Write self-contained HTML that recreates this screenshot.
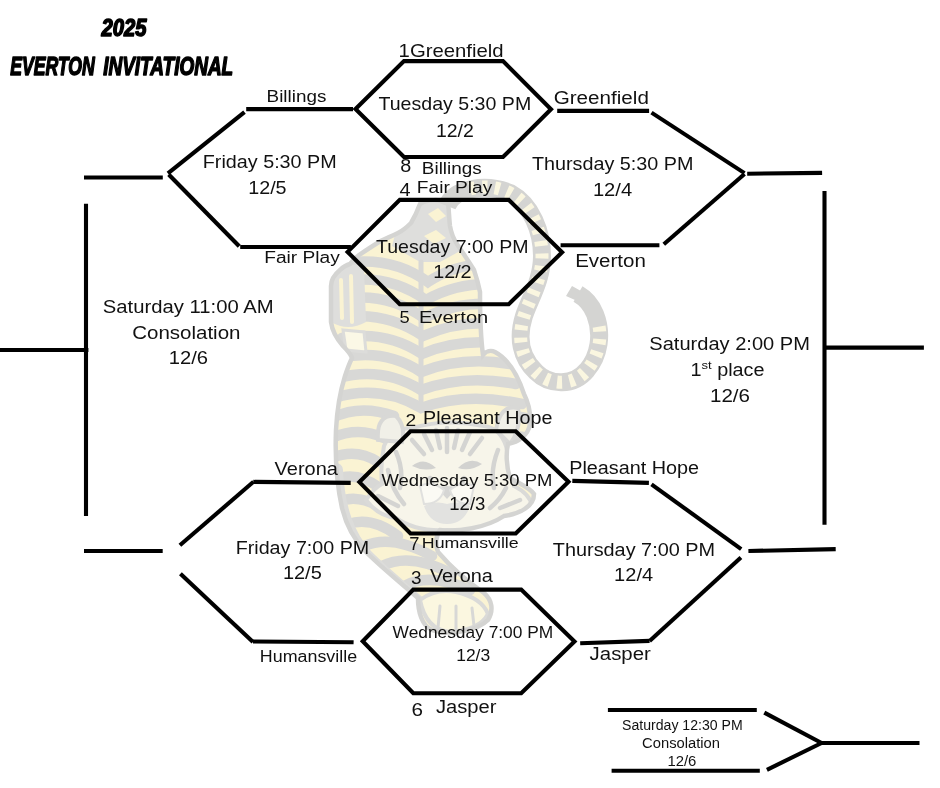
<!DOCTYPE html>
<html lang="en"><head><meta charset="utf-8"><title>2025 Everton Invitational</title>
<style>
html,body{margin:0;padding:0;background:#fff;}
body{width:940px;height:788px;overflow:hidden;}
svg{display:block;will-change:transform;}
.t{font-family:"Liberation Sans",sans-serif;fill:#111;}
.ttl{font-family:"Liberation Sans",sans-serif;font-weight:bold;font-style:italic;fill:#000;stroke:#000;stroke-width:1.5;stroke-linejoin:round;}
.ln{stroke:#000;stroke-width:4.1;fill:none;stroke-linecap:butt;stroke-linejoin:miter;}
</style></head><body>
<svg width="940" height="788" viewBox="0 0 940 788">
<rect width="940" height="788" fill="#fff"/>
<g class="tiger">
<defs>
<clipPath id="bodyclip"><path id="bodyp" d="M448,203 C440,199 428,199 420,204 C417,212 414,218 411,223 C406,228 402,231 398,233 C390,237 384,239 379,242 C371,247 365,251 359,255 C355,258 352,261 350,264 C346,265 343,267 340,270 C334,275 331,280 331,286 L331,322 C332,330 336,338 343,346 C348,351 351,355 352,358 C349,364 347,370 345,376 C340,392 337,410 336,430 C335,455 337,485 342,508 C346,524 354,540 366,552 C382,568 402,584 418,598 C418,612 422,626 432,630 C452,636 478,630 488,620 C494,610 492,600 484,593 C468,582 450,566 438,552 C435,544 436,535 440,530 C458,532 486,528 504,516 C520,514 534,506 534,494 C530,488 520,484 510,478 C506,466 506,452 508,444 C518,442 528,436 530,424 C531,412 528,402 524,394 C518,376 508,359 495,352 C491,350 486,351 483,355 C481,340 480,316 480,292 C478,282 476,276 474,270 C468,260 462,252 457,244 C453,238 451,232 450,226 C449,218 449,210 448,203 Z"/></clipPath>
</defs>
<use href="#bodyp" fill="#faf3d3"/>
<g clip-path="url(#bodyclip)" fill="none" stroke="#d8d8d6" stroke-linecap="round">
 <!-- rump is mostly grey -->
 <path d="M405,196 L455,196 L462,250 L440,262 L420,262 L392,246 Z" fill="#dededc" stroke="none"/>
 <path d="M428,214 L438,208 L446,216 L436,222 Z M424,236 L436,230 L446,238 L434,244 Z" fill="#faf3d3" stroke="none"/>
 <g stroke-width="10.5">
  <path d="M352,262 Q395,258 428,282 Q452,266 482,264"/>
  <path d="M352,280 Q392,276 426,300 Q454,284 488,284"/>
  <path d="M350,298 Q390,294 424,318 Q456,302 492,304"/>
  <path d="M346,317 Q388,312 423,336 Q458,320 498,324"/>
  <path d="M342,338 Q386,330 422,354 Q460,338 504,344"/>
  <path d="M340,358 Q384,348 421,372 Q462,356 510,364"/>
  <path d="M338,378 Q382,366 421,390 Q464,374 516,384"/>
  <path d="M334,398 Q380,384 421,408 Q466,392 522,404"/>
  <path d="M332,418 Q360,404 394,416"/>
  <path d="M332,438 Q358,426 384,438"/>
  <path d="M332,458 Q356,448 378,462"/>
  <path d="M334,480 Q356,470 380,488"/>
  <path d="M338,502 Q360,492 388,512"/>
  <path d="M348,524 Q372,516 398,536"/>
  <path d="M364,546 Q392,534 432,556"/>
  <path d="M382,566 Q410,552 452,574"/>
  <path d="M404,586 Q430,572 470,590"/>
  <path d="M500,420 Q516,412 536,422"/>
  <path d="M506,440 Q520,432 536,442"/>
  <path d="M512,462 Q522,454 536,464"/>
 </g>
 <path d="M421,262 L421,410" stroke-width="5"/>
 <!-- hind leg left -->
 <path d="M331,272 Q346,262 364,266 L366,322 Q348,332 331,322 Z" fill="#dededc" stroke="none"/>
 <path d="M341,280 L342,318 M351,276 L352,322" stroke="#faf3d3" stroke-width="4"/>
 <path d="M343,330 L364,332 L366,352 L346,350 Z" fill="#fbf8e6" stroke="#dcdcda" stroke-width="3"/>
 <!-- head -->
 <path d="M384,446 Q392,428 412,428 Q447,418 484,426 Q500,428 506,446 Q512,470 514,486 Q530,494 532,506 Q518,520 500,520 Q478,532 447,530 Q416,532 396,518 Q378,516 366,500 Q374,488 382,484 Q380,466 384,446 Z" fill="#f7f5ea" stroke="#dadad8" stroke-width="4"/>
 <path d="M378,440 Q376,414 396,416 Q406,426 402,442 Z M496,430 Q500,404 518,408 Q522,428 510,444 Z" fill="#f1f0e8" stroke="#d8d8d6" stroke-width="4"/>
 <g stroke="#d4d4d2" stroke-width="4.5">
 <path d="M447,428 L447,452 M436,430 L440,448 M458,430 L454,448 M424,434 L432,450 M470,432 L462,450 M412,440 L424,454 M482,438 L470,454"/>
 <path d="M396,452 Q404,470 400,488 M498,450 Q490,470 494,488 M388,470 Q392,490 404,504 M506,488 Q500,500 490,508 M378,496 L398,506 M520,500 L500,508"/>
 <path d="M430,478 Q436,490 432,504 M464,478 Q458,490 462,504"/>
 </g>
 <path d="M412,466 Q424,456 436,468 Q424,472 412,466 Z M458,468 Q470,456 482,464 Q470,472 458,468 Z" fill="#d2d2d0" stroke="none"/>
 <path d="M437,488 Q447,484 457,488 L447,499 Z" fill="#d6d6d4" stroke="none"/>
 <path d="M424,506 Q436,500 447,504 Q458,500 470,506 Q464,524 447,524 Q430,524 424,506 Z" fill="#e2e2e0" stroke="none"/>
 <path d="M420,486 Q432,480 444,490 Q440,504 424,504 Z M474,486 Q462,480 450,490 Q454,504 470,504 Z" fill="#fbfaf4" stroke="#e0e0de" stroke-width="2"/>
 <path d="M336,470 C338,510 348,536 366,556 C384,574 404,590 422,606" stroke="#dcdcda" stroke-width="14" fill="none"/>
 <!-- paw -->
 <path d="M420,600 Q436,588 456,592 Q482,598 488,614 Q480,630 450,632 Q426,630 420,600 Z" fill="#fbf7e0" stroke="#dadad8" stroke-width="4"/>
 <path d="M440,606 L438,628 M456,606 L456,630 M472,608 L474,626" stroke-width="3"/>
</g>
<use href="#bodyp" fill="none" stroke="#d4d4d2" stroke-width="4.5"/>
<!-- tail -->
<path id="tailp" d="M447,206 C454,188 486,183 510,193 C532,205 542,232 542,256 C542,280 530,298 524,316 C517,338 521,358 536,372 C550,386 574,386 587,370 C599,356 603,334 595,314 C591,304 585,298 578,294" fill="none" stroke="#d4d4d2" stroke-width="18" stroke-linecap="butt"/>
<path d="M572,286 L590,296 L584,304 L566,296 Z" fill="#d4d4d2"/>
<path d="M470,189 C484,185 498,187 510,193 C532,205 542,232 542,256 C542,280 530,298 524,316 C517,338 521,358 536,372 C550,386 574,386 587,370 C597,358 602,342 599,326" fill="none" stroke="#faf6e0" stroke-width="13" stroke-dasharray="5 7.5"/>
</g>

<g class="ln">
<polygon points="404,61.1 503,61.1 551,109.3 503,157 404,157 355.5,109"/>
<polygon points="399.8,199.9 508.7,199.9 562.1,252.3 508.7,304.3 399.8,304.3 347.6,251.9"/>
<polygon points="410.5,431.3 515.7,431.3 568.5,481.8 515.7,533.5 410.5,533.5 359.4,482.1"/>
<polygon points="413.3,589.6 521.2,589.6 574.5,641.5 521.2,693.3 413.3,693.3 362.7,641.3"/>
<line x1="246.2" y1="109.1" x2="353" y2="109.1"/>
<line x1="244.5" y1="112.1" x2="167.9" y2="173.4"/>
<line x1="168.7" y1="174.5" x2="239.2" y2="246.3"/>
<line x1="240.2" y1="247" x2="350.9" y2="247"/>
<line x1="84" y1="177.5" x2="162.8" y2="177.5"/>
<line x1="86" y1="203.8" x2="86" y2="516.1"/>
<line x1="0" y1="350" x2="88.4" y2="350"/>
<line x1="84" y1="551" x2="162.7" y2="551"/>
<line x1="179.9" y1="545.2" x2="253.5" y2="481.8"/>
<line x1="253.3" y1="481.9" x2="350.7" y2="482.9"/>
<line x1="180.4" y1="573.7" x2="253" y2="642"/>
<line x1="253" y1="641.5" x2="353.6" y2="642.3"/>
<line x1="557.2" y1="110.9" x2="649.1" y2="110.9"/>
<line x1="651.5" y1="112.6" x2="744.5" y2="173.1"/>
<line x1="744.5" y1="174" x2="663.8" y2="244.3"/>
<line x1="560.6" y1="245.3" x2="659.4" y2="245.3"/>
<line x1="747.2" y1="173.7" x2="822.1" y2="172.9"/>
<line x1="824.5" y1="190.9" x2="824.5" y2="524.8"/>
<line x1="824.5" y1="347.6" x2="923.9" y2="347.6"/>
<line x1="572.3" y1="480.9" x2="648.9" y2="482.9"/>
<line x1="651.5" y1="484.3" x2="741.2" y2="549.2"/>
<line x1="740.9" y1="557.4" x2="649.6" y2="640.9"/>
<line x1="580.2" y1="643.2" x2="649.6" y2="640.9"/>
<line x1="748.4" y1="551" x2="835.7" y2="549.1"/>
<line x1="607.9" y1="710" x2="756.8" y2="710"/>
<line x1="611.6" y1="770.7" x2="759.8" y2="770.7"/>
<line x1="764.3" y1="712.6" x2="821.6" y2="743"/>
<line x1="766.9" y1="769.8" x2="821.6" y2="743"/>
<line x1="820" y1="743" x2="919.5" y2="743"/>
</g>
<text class="ttl" x="101.6" y="36.3" font-size="23.4" textLength="45" lengthAdjust="spacingAndGlyphs">2025</text>
<text class="ttl" x="10.2" y="75.2" font-size="25.6" textLength="84.5" lengthAdjust="spacingAndGlyphs">EVERTON</text>
<text class="ttl" x="103.2" y="75.2" font-size="25.6" textLength="130" lengthAdjust="spacingAndGlyphs">INVITATIONAL</text>
<g class="t">
<text x="398.6" y="56.8" font-size="17.9" textLength="105" lengthAdjust="spacingAndGlyphs">1Greenfield</text>
<text x="378.5" y="110.4" font-size="17.9" textLength="152.7" lengthAdjust="spacingAndGlyphs">Tuesday 5:30 PM</text>
<text x="435.9" y="136.5" font-size="17.9" textLength="37.9" lengthAdjust="spacingAndGlyphs">12/2</text>
<text x="400.2" y="171.6" font-size="17.5" textLength="11" lengthAdjust="spacingAndGlyphs">8</text>
<text x="421.8" y="173.7" font-size="16.1" textLength="60" lengthAdjust="spacingAndGlyphs">Billings</text>
<text x="399.6" y="195.5" font-size="17.6" textLength="11.1" lengthAdjust="spacingAndGlyphs">4</text>
<text x="416.8" y="193.1" font-size="17.3" textLength="75.5" lengthAdjust="spacingAndGlyphs">Fair Play</text>
<text x="376" y="252.5" font-size="17.9" textLength="152.5" lengthAdjust="spacingAndGlyphs">Tuesday 7:00 PM</text>
<text x="433.2" y="278.4" font-size="17.9" textLength="38.4" lengthAdjust="spacingAndGlyphs">12/2</text>
<text x="399.6" y="323" font-size="17.3" textLength="10.2" lengthAdjust="spacingAndGlyphs">5</text>
<text x="418.9" y="323" font-size="17.3" textLength="69.4" lengthAdjust="spacingAndGlyphs">Everton</text>
<text x="266.6" y="101.9" font-size="16.1" textLength="59.8" lengthAdjust="spacingAndGlyphs">Billings</text>
<text x="202.8" y="167.8" font-size="17.5" textLength="133.9" lengthAdjust="spacingAndGlyphs">Friday 5:30 PM</text>
<text x="248.2" y="193.8" font-size="17.5" textLength="38.4" lengthAdjust="spacingAndGlyphs">12/5</text>
<text x="264.2" y="263.4" font-size="17.3" textLength="75.6" lengthAdjust="spacingAndGlyphs">Fair Play</text>
<text x="102.8" y="313" font-size="17.5" textLength="170.8" lengthAdjust="spacingAndGlyphs">Saturday 11:00 AM</text>
<text x="132.2" y="338.7" font-size="17.5" textLength="108.3" lengthAdjust="spacingAndGlyphs">Consolation</text>
<text x="168.8" y="364.3" font-size="17.5" textLength="39.3" lengthAdjust="spacingAndGlyphs">12/6</text>
<text x="553.7" y="104" font-size="17.5" textLength="95.2" lengthAdjust="spacingAndGlyphs">Greenfield</text>
<text x="531.9" y="169.7" font-size="17.5" textLength="161.6" lengthAdjust="spacingAndGlyphs">Thursday 5:30 PM</text>
<text x="592.9" y="196" font-size="17.5" textLength="39.3" lengthAdjust="spacingAndGlyphs">12/4</text>
<text x="575.2" y="266.8" font-size="17.5" textLength="70.7" lengthAdjust="spacingAndGlyphs">Everton</text>
<text x="649.3" y="350" font-size="17.5" textLength="160.6" lengthAdjust="spacingAndGlyphs">Saturday 2:00 PM</text>
<text x="710" y="402" font-size="17.5" textLength="40" lengthAdjust="spacingAndGlyphs">12/6</text>
<text x="405.6" y="425.8" font-size="17.3" textLength="10.7" lengthAdjust="spacingAndGlyphs">2</text>
<text x="423" y="423.5" font-size="17.5" textLength="129.4" lengthAdjust="spacingAndGlyphs">Pleasant Hope</text>
<text x="381.5" y="485.7" font-size="15.8" textLength="170.9" lengthAdjust="spacingAndGlyphs">Wednesday 5:30 PM</text>
<text x="449.3" y="510.4" font-size="17.5" textLength="36.1" lengthAdjust="spacingAndGlyphs">12/3</text>
<text x="409.2" y="549.6" font-size="17.9" textLength="10.2" lengthAdjust="spacingAndGlyphs">7</text>
<text x="421.8" y="547.5" font-size="14.9" textLength="96.9" lengthAdjust="spacingAndGlyphs">Humansville</text>
<text x="274.6" y="475.3" font-size="17.7" textLength="63.3" lengthAdjust="spacingAndGlyphs">Verona</text>
<text x="235.7" y="553.9" font-size="17.5" textLength="133.6" lengthAdjust="spacingAndGlyphs">Friday 7:00 PM</text>
<text x="282.9" y="579.3" font-size="17.5" textLength="38.9" lengthAdjust="spacingAndGlyphs">12/5</text>
<text x="259.8" y="661.8" font-size="15.6" textLength="97.3" lengthAdjust="spacingAndGlyphs">Humansville</text>
<text x="569.2" y="474" font-size="17.5" textLength="129.9" lengthAdjust="spacingAndGlyphs">Pleasant Hope</text>
<text x="552.8" y="555.7" font-size="17.5" textLength="162.3" lengthAdjust="spacingAndGlyphs">Thursday 7:00 PM</text>
<text x="614.1" y="581.3" font-size="17.5" textLength="39" lengthAdjust="spacingAndGlyphs">12/4</text>
<text x="589.6" y="659.6" font-size="17.5" textLength="61.2" lengthAdjust="spacingAndGlyphs">Jasper</text>
<text x="411.1" y="584.4" font-size="17.5" textLength="10.5" lengthAdjust="spacingAndGlyphs">3</text>
<text x="429.9" y="582" font-size="17.5" textLength="63" lengthAdjust="spacingAndGlyphs">Verona</text>
<text x="392.6" y="637.7" font-size="15.9" textLength="160.6" lengthAdjust="spacingAndGlyphs">Wednesday 7:00 PM</text>
<text x="456.2" y="661.2" font-size="16.8" textLength="34" lengthAdjust="spacingAndGlyphs">12/3</text>
<text x="411.5" y="715.8" font-size="18.7" textLength="11.5" lengthAdjust="spacingAndGlyphs">6</text>
<text x="436" y="712.7" font-size="17.5" textLength="60.5" lengthAdjust="spacingAndGlyphs">Jasper</text>
<text x="622" y="730.2" font-size="13.8" textLength="120.7" lengthAdjust="spacingAndGlyphs">Saturday 12:30 PM</text>
<text x="642.1" y="747.7" font-size="13.8" textLength="77.9" lengthAdjust="spacingAndGlyphs">Consolation</text>
<text x="667.4" y="765.9" font-size="14.2" textLength="29" lengthAdjust="spacingAndGlyphs">12/6</text>
<text x="690.5" y="375.6" font-size="17.5" textLength="74" lengthAdjust="spacingAndGlyphs">1<tspan font-size="11.5" dy="-6.6">st</tspan><tspan dy="6.6"> place</tspan></text>
</g>
</svg></body></html>
